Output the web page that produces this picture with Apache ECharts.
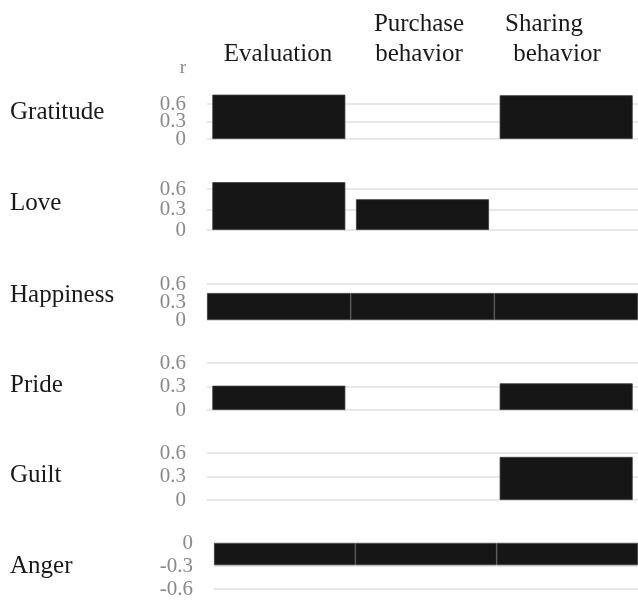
<!DOCTYPE html>
<html>
<head>
<meta charset="UTF-8">
<title>Emotion correlations</title>
<script src="https://cdn.jsdelivr.net/npm/echarts@6/dist/echarts.min.js"></script>
<style>
html, body { margin: 0; padding: 0; background: #fff; }
#main { width: 638px; height: 600px; }
</style>
</head>
<body>
<div id="main"></div>
<script>
// columns and rows
var columns = ['Evaluation', 'Purchase\nbehavior', 'Sharing\nbehavior'];
var emotions = ['Gratitude', 'Love', 'Happiness', 'Pride', 'Guilt', 'Anger'];

// correlation r per column (null = no bar)
var gratitude = [0.76, null, 0.75];
var love = [0.70, 0.45, null];
var happiness = [0.45, 0.45, 0.45];
var pride = [0.31, null, 0.34];
var guilt = [null, null, 0.55];
var anger = [-0.29, -0.29, -0.29];
var values = [gratitude, love, happiness, pride, guilt, anger];

// axis ranges and tick labels
var posTicks = [0, 0.3, 0.6];
var negTicks = [-0.6, -0.3, 0];
var tickStep = 0.3;

// layout of each row (px)
var rowTop = [104, 189, 284, 363, 453, 543];
var rowHeight = [35, 41, 36, 47, 47, 46];
var rowLeft = [207, 207, 207, 207, 207, 214];
var labelY = [112, 203, 295, 385, 475, 566];
var fullWidth = [false, false, true, false, false, true];
// header line centres: [x per line], bottom line sits at y 54
var headerX = [[278], [419, 419], [544, 557]];

var serif = '"Liberation Serif", "DejaVu Serif", serif';
var grids = [], xAxes = [], yAxes = [], series = [], graphics = [];

function tickLabel(ends) {
    return {
        margin: 21, fontFamily: serif, fontSize: 21, color: '#8a8a8a',
        showMinLabel: ends, showMaxLabel: ends,
        formatter: function (v) {
            var isEnd = Math.abs(v) < 1e-9 || Math.abs(Math.abs(v) - 0.6) < 1e-9;
            return isEnd === ends ? String(v) : '';
        }
    };
}

for (var i = 0; i < emotions.length; i++) {
    var neg = values[i].some(function (v) { return v !== null && v < 0; });
    var ticks = neg ? negTicks : posTicks;
    grids.push({ left: rowLeft[i], right: -4, top: rowTop[i], height: rowHeight[i] });
    xAxes.push({
        type: 'category',
        gridIndex: i,
        data: columns,
        axisLine: { show: false },
        axisTick: { show: false },
        axisLabel: { show: false },
        splitLine: { show: false }
    });
    // end labels + grid lines
    yAxes.push({
        type: 'value',
        gridIndex: i,
        min: ticks[0],
        max: ticks[ticks.length - 1],
        interval: tickStep,
        name: i === 0 ? 'r' : '',
        nameLocation: 'end',
        nameGap: 26,
        nameTextStyle: { fontFamily: serif, fontSize: 19, color: '#8a8a8a', padding: [0, 48, 0, 0] },
        axisLine: { show: false },
        axisTick: { show: false },
        axisLabel: tickLabel(true),
        splitLine: { lineStyle: { color: '#e0e0e0', width: 1.5 } }
    });
    // middle label (kept apart so it is not dropped when rows are tight)
    yAxes.push({
        type: 'value',
        gridIndex: i,
        position: 'left',
        min: ticks[0],
        max: ticks[ticks.length - 1],
        interval: tickStep,
        axisLine: { show: false },
        axisTick: { show: false },
        axisLabel: tickLabel(false),
        splitLine: { show: false }
    });
    series.push({
        type: 'bar',
        xAxisIndex: i,
        yAxisIndex: 2 * i,
        data: values[i],
        barWidth: fullWidth[i] ? '100%' : 133,
        clip: false,
        itemStyle: { color: '#161616', borderColor: '#3a3a3a', borderWidth: 0.8 },
        silent: true
    });
    graphics.push({
        type: 'text',
        left: 10,
        top: labelY[i] - 12,
        style: { text: emotions[i], fontFamily: serif, fontSize: 25, fill: '#1a1a1a' }
    });
}

// column headers
columns.forEach(function (col, c) {
    var lines = col.split('\n');
    lines.forEach(function (line, k) {
        graphics.push({
            type: 'text',
            x: headerX[c][k],
            y: 54 - (lines.length - 1 - k) * 30,
            style: {
                text: line, fontFamily: serif, fontSize: 25, fill: '#1a1a1a',
                align: 'center', verticalAlign: 'middle'
            }
        });
    });
});

var chart = echarts.init(document.getElementById('main'));
chart.setOption({
    backgroundColor: '#fff',
    animation: false,
    grid: grids,
    xAxis: xAxes,
    yAxis: yAxes,
    series: series,
    graphic: graphics
});
</script>
</body>
</html>
